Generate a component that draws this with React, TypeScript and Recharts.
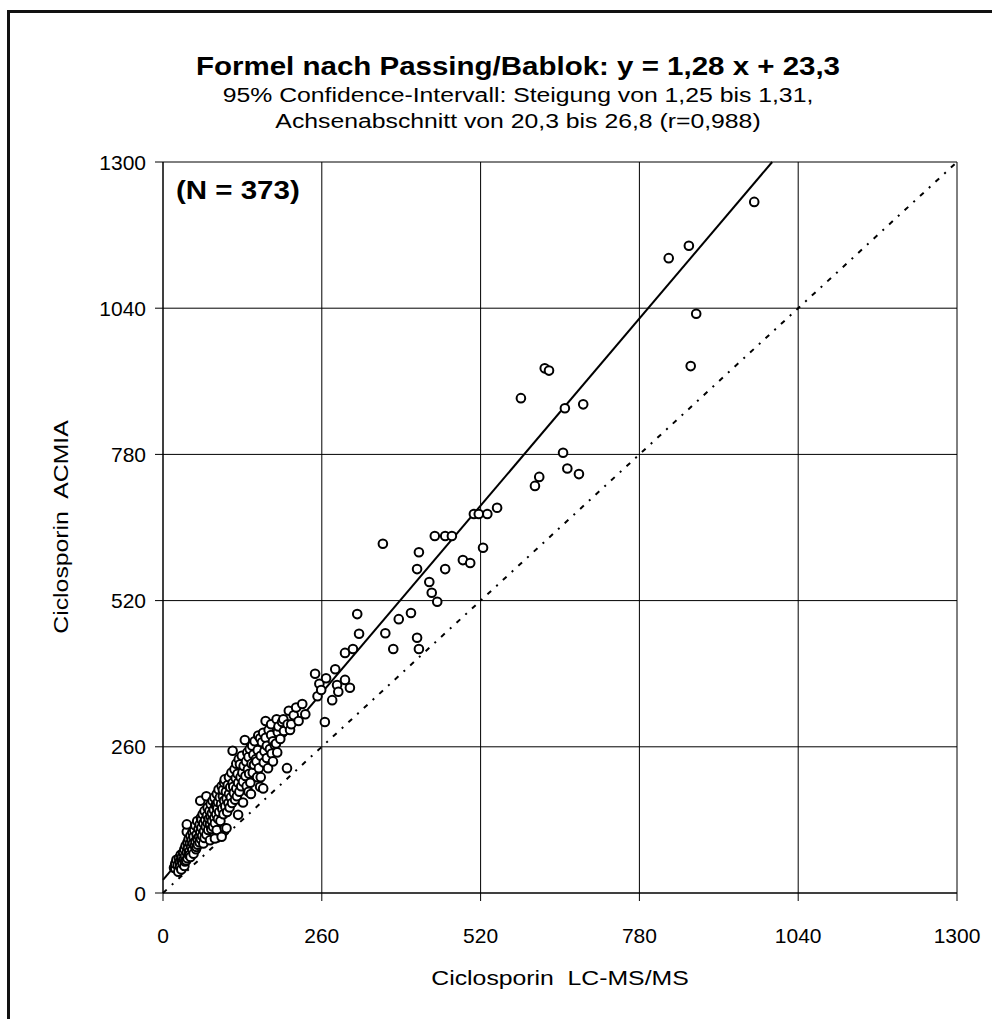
import { CartesianGrid, ReferenceLine, Scatter, ScatterChart, XAxis, YAxis } from 'recharts';

const FONT = '"Liberation Sans", Arial, sans-serif';
// text in the original is a bit wider than plain Arial
const STRETCH = 1.18;

const axisTicks = [0, 260, 520, 780, 1040, 1300];
const slope = 1.28;
const intercept = 23.3;

const titleText = 'Formel nach Passing/Bablok: y = 1,28 x + 23,3';
const subtitleLines = [
    '95% Confidence-Intervall: Steigung von 1,25 bis 1,31,',
    'Achsenabschnitt von 20,3 bis 26,8 (r=0,988)',
];
const countLabel = '(N = 373)';
const xTitle = 'Ciclosporin\u00a0 LC-MS/MS';
const yTitle = 'Ciclosporin\u00a0 ACMIA';

// x = LC-MS/MS, y = ACMIA
const lowCluster: [number, number][] = [
    [18, 45], [20, 44], [20, 52], [22, 59], [24, 50], [25, 38], [26, 62], [27, 55], [28, 47], [29, 68],
    [30, 58], [30, 42], [31, 64], [32, 52], [33, 72], [34, 60], [35, 78], [35, 48], [36, 56], [36, 66],
    [37, 84], [38, 58], [39, 109], [39, 122], [39, 72], [40, 90], [40, 62], [41, 80], [42, 68], [42, 96],
    [43, 74], [44, 68], [44, 88], [45, 102], [45, 64], [46, 82], [47, 94], [48, 76], [48, 108], [49, 88],
    [50, 100], [50, 70], [51, 112], [52, 84], [53, 92], [53, 120], [54, 78], [55, 82], [55, 104], [56, 96],
    [56, 128], [57, 86], [58, 114], [59, 100],
];

const coreCluster: [number, number][] = [
    [60, 90], [60, 122], [61, 164], [61, 108], [62, 134], [62, 96], [63, 130], [63, 116], [64, 102], [65, 140],
    [66, 88], [66, 124], [67, 110], [68, 146], [68, 98], [69, 130], [70, 118], [71, 172], [71, 104], [72, 138],
    [73, 124], [73, 152], [74, 112], [75, 132], [76, 146], [77, 94], [77, 122], [78, 158], [78, 136], [79, 114],
    [80, 142], [80, 128], [81, 164], [82, 118], [83, 148], [84, 134], [84, 170], [85, 97], [85, 124], [86, 156],
    [87, 140], [88, 157], [88, 176], [88, 112], [89, 150], [90, 132], [90, 162], [91, 184], [92, 144], [93, 170],
    [94, 128], [95, 158], [96, 100], [96, 190], [97, 150], [98, 172], [98, 183], [99, 140], [100, 164], [100, 196],
    [101, 115], [101, 202], [102, 154], [103, 180], [104, 168], [104, 115], [105, 144], [106, 192], [107, 160], [108, 206],
    [108, 176], [109, 152], [110, 188], [111, 170], [112, 214], [113, 160], [114, 196], [114, 253], [115, 189], [116, 178],
    [117, 220], [118, 166], [119, 204], [120, 186], [120, 230],
];

const upperCluster: [number, number][] = [
    [121, 172], [122, 212], [123, 139], [123, 196], [124, 238], [125, 180], [126, 229], [127, 206], [128, 190], [129, 244],
    [130, 214], [131, 161], [131, 198], [132, 226], [134, 272], [135, 208], [136, 234], [137, 190], [138, 250], [139, 220],
    [140, 180], [140, 242], [141, 212], [142, 256], [143, 196], [144, 176], [145, 230], [146, 262], [147, 214], [148, 246],
    [149, 228], [150, 270], [152, 238], [153, 234], [154, 206], [155, 254], [156, 280], [157, 222], [159, 275], [159, 189],
    [160, 206], [160, 244], [162, 268], [164, 186], [164, 285], [165, 232], [166, 252], [168, 306], [168, 276], [170, 240],
    [170, 262], [172, 222], [173, 290], [175, 256], [177, 281], [177, 300], [178, 248], [180, 234], [180, 270], [183, 263],
    [185, 266], [186, 309], [187, 250], [188, 286], [189, 296], [192, 274], [195, 304], [197, 309], [198, 288], [203, 222],
    [204, 300], [206, 324], [208, 290], [210, 300], [214, 316], [218, 330], [222, 306], [228, 336], [233, 318], [249, 390],
    [253, 350], [256, 372], [259, 361], [265, 304], [267, 382],
];

const midRange: [number, number][] = [
    [277, 343], [282, 398], [285, 370], [287, 358], [298, 379], [298, 427], [306, 365], [311, 434], [318, 496], [321, 461],
    [364, 462], [377, 434], [386, 487], [406, 498], [416, 454], [419, 434], [360, 621], [419, 606], [416, 576], [445, 635],
    [462, 635], [473, 635], [462, 576], [436, 553], [440, 534], [449, 518], [491, 592], [503, 587], [524, 614], [509, 674],
    [517, 674], [531, 674], [547, 685],
];

const highRange: [number, number][] = [
    [586, 880], [609, 724], [616, 740], [625, 933], [632, 929], [655, 783], [658, 862], [662, 755], [681, 745], [688, 869],
    [828, 1129], [861, 1151], [864, 937], [873, 1030], [968, 1229],
];

const points = [...lowCluster, ...coreCluster, ...upperCluster, ...midRange, ...highRange].map(([x, y]) => ({ x, y }));

const regression = [
    { x: 0, y: intercept },
    { x: (1300 - intercept) / slope, y: 1300 },
];
const identity = [
    { x: 0, y: 0 },
    { x: 1300, y: 1300 },
];

function Label({ x, y, size, bold, anchor = 'middle', rotate = 0, children }: any) {
    return (
        <text
            transform={`translate(${x} ${y}) rotate(${rotate}) scale(${STRETCH} 1)`}
            textAnchor={anchor}
            fontSize={size}
            fontWeight={bold ? 'bold' : 'normal'}
            fontFamily={FONT}
            fill="#000"
        >
            {children}
        </text>
    );
}

const XTick = ({ x, y, payload }: any) => (
    <text x={x} y={y} textAnchor="middle" dy={15} fontSize={21} fontFamily={FONT} fill="#000">
        {payload.value}
    </text>
);

const YTick = ({ x, y, payload }: any) => (
    <text x={x} y={y} textAnchor="end" dy={7.5} fontSize={21} fontFamily={FONT} fill="#000">
        {payload.value}
    </text>
);

const Marker = ({ cx, cy }: any) => <circle cx={cx} cy={cy} r={4.3} fill="#fff" stroke="#000" strokeWidth={2} />;

export default function App() {
    return (
        <div style={{ position: 'absolute', left: 0, top: 0, width: 992, height: 1019, background: '#fff' }}>
            <div
                style={{
                    position: 'absolute',
                    left: 7,
                    top: 10,
                    width: 982,
                    height: 1006,
                    borderLeft: '3px solid #111',
                    borderTop: '3px solid #111',
                }}
            />
            <div style={{ position: 'absolute', left: 0, top: 0 }}>
                <ScatterChart width={992} height={1019} margin={{ top: 162, right: 35, left: 103, bottom: 66 }}>
                    <CartesianGrid stroke="#000" strokeWidth={1} />
                    <XAxis
                        type="number"
                        dataKey="x"
                        domain={[0, 1300]}
                        ticks={axisTicks}
                        interval={0}
                        height={60}
                        tickSize={8}
                        tickMargin={27}
                        stroke="#000"
                        tick={XTick}
                    />
                    <YAxis
                        type="number"
                        dataKey="y"
                        domain={[0, 1300]}
                        ticks={axisTicks}
                        interval={0}
                        width={60}
                        tickSize={8}
                        tickMargin={9}
                        stroke="#000"
                        tick={YTick}
                    />
                    <ReferenceLine segment={identity} stroke="#000" strokeWidth={2} strokeDasharray="5 7 2 7" />
                    <ReferenceLine segment={regression} stroke="#000" strokeWidth={2} />
                    <Scatter data={points} shape={Marker} isAnimationActive={false} />
                </ScatterChart>
            </div>
            <svg width={992} height={1019} style={{ position: 'absolute', left: 0, top: 0, pointerEvents: 'none' }}>
                <Label x={518} y={75} size={25} bold>
                    {titleText}
                </Label>
                <Label x={518} y={102} size={21}>
                    {subtitleLines[0]}
                </Label>
                <Label x={518} y={128} size={21}>
                    {subtitleLines[1]}
                </Label>
                <Label x={176} y={199} size={25} bold anchor="start">
                    {countLabel}
                </Label>
                <Label x={560} y={985} size={21}>
                    {xTitle}
                </Label>
                <Label x={68} y={527} size={21} rotate={-90}>
                    {yTitle}
                </Label>
            </svg>
        </div>
    );
}
